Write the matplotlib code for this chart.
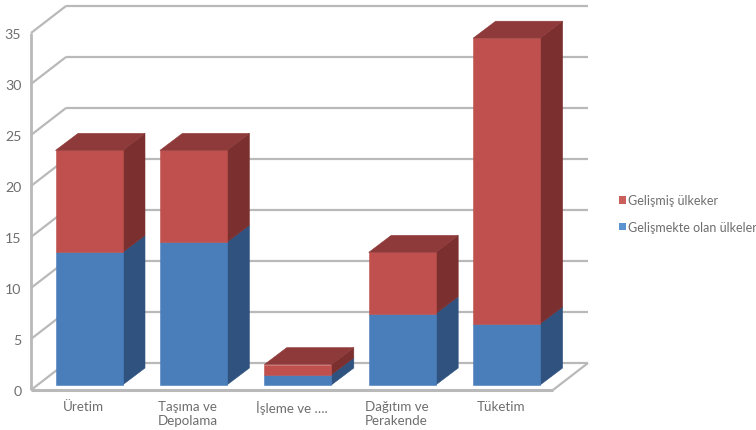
import matplotlib
matplotlib.use('Agg')
from matplotlib import pyplot as plt
from matplotlib.patches import Patch, Polygon

categories = ['Üretim', 'Taşıma ve\nDepolama', 'İşleme ve ….', 'Dağıtım ve\nPerakende', 'Tüketim']
developing = [13, 14, 1, 7, 6]
developed = [10, 9, 1, 6, 28]
yticks = [0, 5, 10, 15, 20, 25, 30, 35]
names = ['Gelişmiş ülkeker', 'Gelişmekte olan ülkeler']

W, H = 756, 431
# oblique projection: screen pixels per category and per value unit
CAT_PX = 104.4
VAL_PX = 10.2
GRID = '#b9b9b9'
TEXT = '#6e6e6e'

plt.rcParams['font.family'] = ['Lato', 'DejaVu Sans']

fig = plt.figure(figsize=(W / 100, H / 100), dpi=100)
ax = fig.add_axes([31 / W, (H - 391) / H, 522 / W, 357 / H])
ax.set_xlim(0, 5)
ax.set_ylim(0, 35)
ax.patch.set_visible(False)
for s in ax.spines.values():
    s.set_visible(False)


def shift(x, y, dx, dy):
    # move a data point by a depth offset given in pixels
    return x + dx / CAT_PX, y + dy / VAL_PX


def face(points, color, z):
    ax.add_patch(Polygon(points, closed=True, facecolor=color, edgecolor=color, lw=0.4,
                         clip_on=False, zorder=z))


def segment(x, y, x2, y2, lw=1.6):
    ax.plot([x, x2], [y, y2], color=GRID, lw=lw, clip_on=False, zorder=1, solid_capstyle='butt')


# walls and floor
for v in yticks:
    bx, by = shift(0, v, 35, 27)
    ex, ey = shift(5, v, 35, 27)
    segment(0, v, bx, by)
    segment(bx, by, ex, ey)
segment(0, 0, 0, 35, lw=2)
segment(0, 0, 5, 0, lw=2.2)
ex, ey = shift(5, 0, 35, 27)
segment(5, 0, ex, ey)


def box(c, v0, v1, front, side, z):
    half = 33.5 / CAT_PX
    # bar front plane sits a little behind the axis plane
    x0, y0 = shift(c - half, v0, 5.8, 5)
    x1, y1 = shift(c + half, v1, 5.8, 5)
    side_pts = [(x1, y0), shift(x1, y0, 22.5, 17), shift(x1, y1, 22.5, 17), (x1, y1)]
    face(side_pts, side, z)
    face([(x0, y0), (x1, y0), (x1, y1), (x0, y1)], front, z + 0.1)


RED, RED_SIDE, RED_TOP = '#c0504d', '#7c2f2f', '#8f3a3a'
BLUE, BLUE_SIDE = '#4a7ebb', '#2f527f'

for i in range(len(categories)):
    c = i + 0.5
    z = 3 + i
    low = developing[i]
    top = low + developed[i]
    box(c, 0, low, BLUE, BLUE_SIDE, z)
    box(c, low, top, RED, RED_SIDE, z + 0.2)
    half = 33.5 / CAT_PX
    x0, y = shift(c - half, top, 5.8, 5)
    x1, _ = shift(c + half, top, 5.8, 5)
    face([(x0, y), (x1, y), shift(x1, y, 22.5, 17), shift(x0, y, 22.5, 17)], RED_TOP, z + 0.4)

ax.set_xticks([i + 0.5 for i in range(len(categories))])
ax.set_xticklabels(categories, fontsize=9.6, color=TEXT, linespacing=1.25)
ax.set_yticks(yticks)
ax.tick_params(axis='x', length=0, pad=7)
ax.tick_params(axis='y', length=0, pad=7, labelsize=10.2, labelcolor=TEXT)

handles = [Patch(facecolor='#cb5f5b'), Patch(facecolor='#5a93cf')]
fig.legend(handles, names, loc='center left', bbox_to_anchor=(619 / W, (H - 214.5) / H),
           frameon=False, fontsize=9, labelcolor=TEXT, handlelength=0.55, handleheight=0.55,
           handletextpad=0.2, labelspacing=1.15, borderpad=0, borderaxespad=0)

fig.savefig('out.png', dpi=100)
plt.close(fig)
